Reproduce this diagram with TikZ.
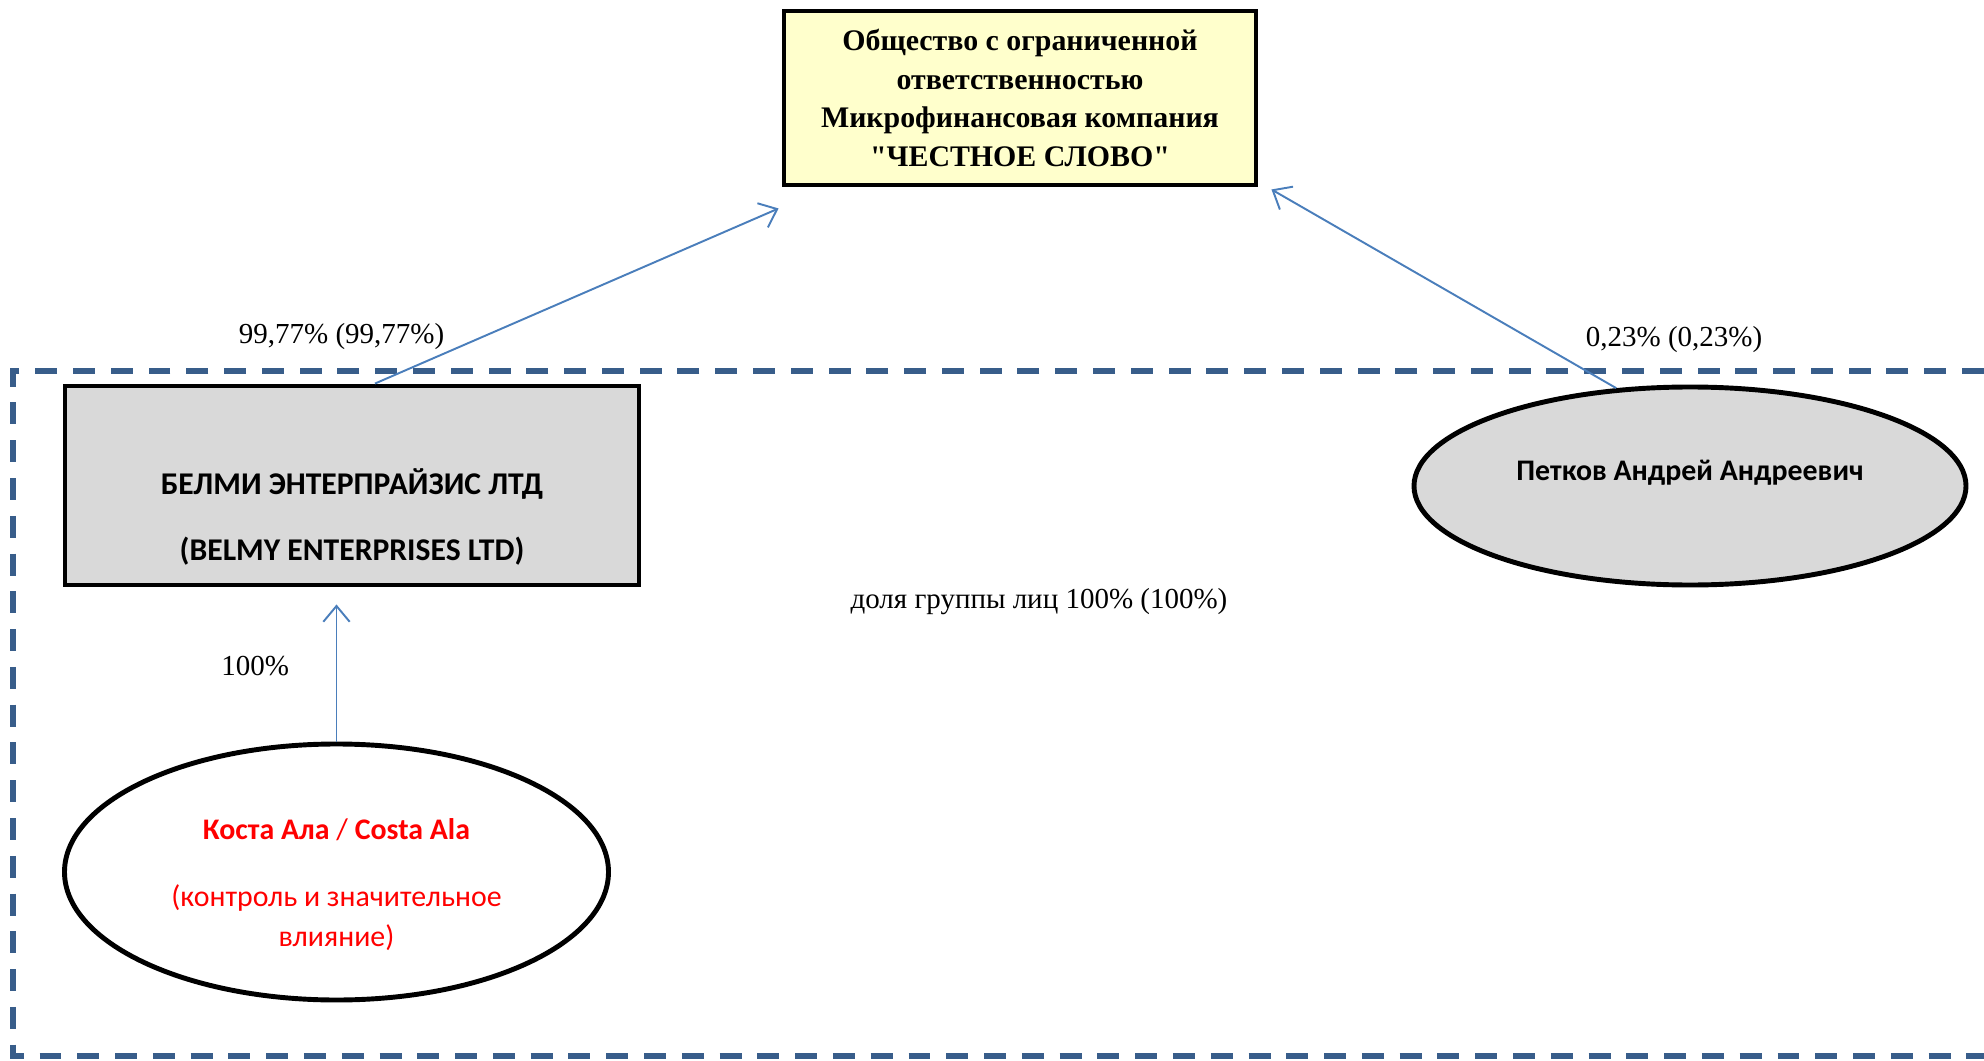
\documentclass[tikz,border=0pt]{standalone}
\usepackage{fontspec}
\setmainfont{Liberation Serif}
\newfontfamily\carlito{Carlito}
\newcommand\dquote{\XeTeXglyph\XeTeXcharglyph34\relax}
\usetikzlibrary{positioning,calc,shapes.geometric,arrows.meta}
\definecolor{grpblue}{RGB}{56,93,138}
\definecolor{lnkblue}{RGB}{74,126,187}
\definecolor{paleyel}{RGB}{255,255,204}
\definecolor{lgray}{RGB}{217,217,217}

\begin{document}
\begin{tikzpicture}[
  firm/.style={draw, line width=2.8pt, rectangle, align=center},
  person/.style={draw, line width=2.8pt, ellipse, inner sep=0pt, align=center},
  share/.style={-{Straight Barb[length=9pt,width=15pt]}, lnkblue, line width=1.1pt},
  lbl/.style={inner sep=0pt, text=black, font=\fontsize{16.5}{19}\selectfont}]
  \useasboundingbox (0,0) rectangle (39.68,-21.22);

  % group of persons
  \draw[grpblue, line width=3.4pt, dash pattern=on 12.5pt off 9pt]
    (39.68,-7.42) -- (0.26,-7.42) -- (0.26,-21.12) -- (39.68,-21.12);

  \node[firm, fill=paleyel, minimum width=9.44cm, minimum height=3.48cm,
        font=\bfseries\fontsize{17}{22}\selectfont] (O) at (20.4,-1.96)
    {Общество с ограниченной\\ответственностью\\Микрофинансовая компания\\\dquote ЧЕСТНОЕ СЛОВО\dquote};
  \node[firm, fill=lgray, minimum width=11.48cm, minimum height=3.98cm,
        font=\carlito\bfseries\fontsize{18}{38}\selectfont] (B) at (7.04,-9.71)
    {\mbox{}\\[0.44cm]БЕЛМИ ЭНТЕРПРАЙЗИС ЛТД\\(BELMY ENTERPRISES LTD)};
  \node[person, fill=lgray, minimum width=11.04cm, minimum height=3.96cm,
        font=\carlito\bfseries\fontsize{17}{20}\selectfont] (P) at (33.8,-9.72)
    {Петков Андрей Андреевич\\[-0.06cm]\mbox{}};
  \node[person, minimum width=10.88cm, minimum height=5.12cm, text=red,
        font=\carlito\fontsize{17}{23}\selectfont] (C) at (6.73,-17.44)
    {\mbox{}\\[0.11cm]\textbf{Коста Ала} / \textbf{Costa Ala}\\[15pt](контроль и значительное\\влияние)};
  \node[lbl] (G) at (20.78,-12.04) {доля группы лиц 100\% (100\%)};

  \draw[share] ($(B.north)+(0.46,0)$) to node[lbl, pos=0.19, anchor=south east, xshift=-0.13cm]
    {99,77\% (99,77\%)} ($(O.south west)+(-0.06,-0.42)$);
  \draw[share] (P.127) to node[lbl, pos=0.175, anchor=south west, xshift=0.58cm]
    {0,23\% (0,23\%)} ($(O.south east)+(0.26,-0.04)$);
  \draw[share] (C.north) to node[lbl, pos=0.55, left=0.93cm]
    {100\%} ($(C.north |- B.south)+(0,-0.34)$);

\end{tikzpicture}
\end{document}
